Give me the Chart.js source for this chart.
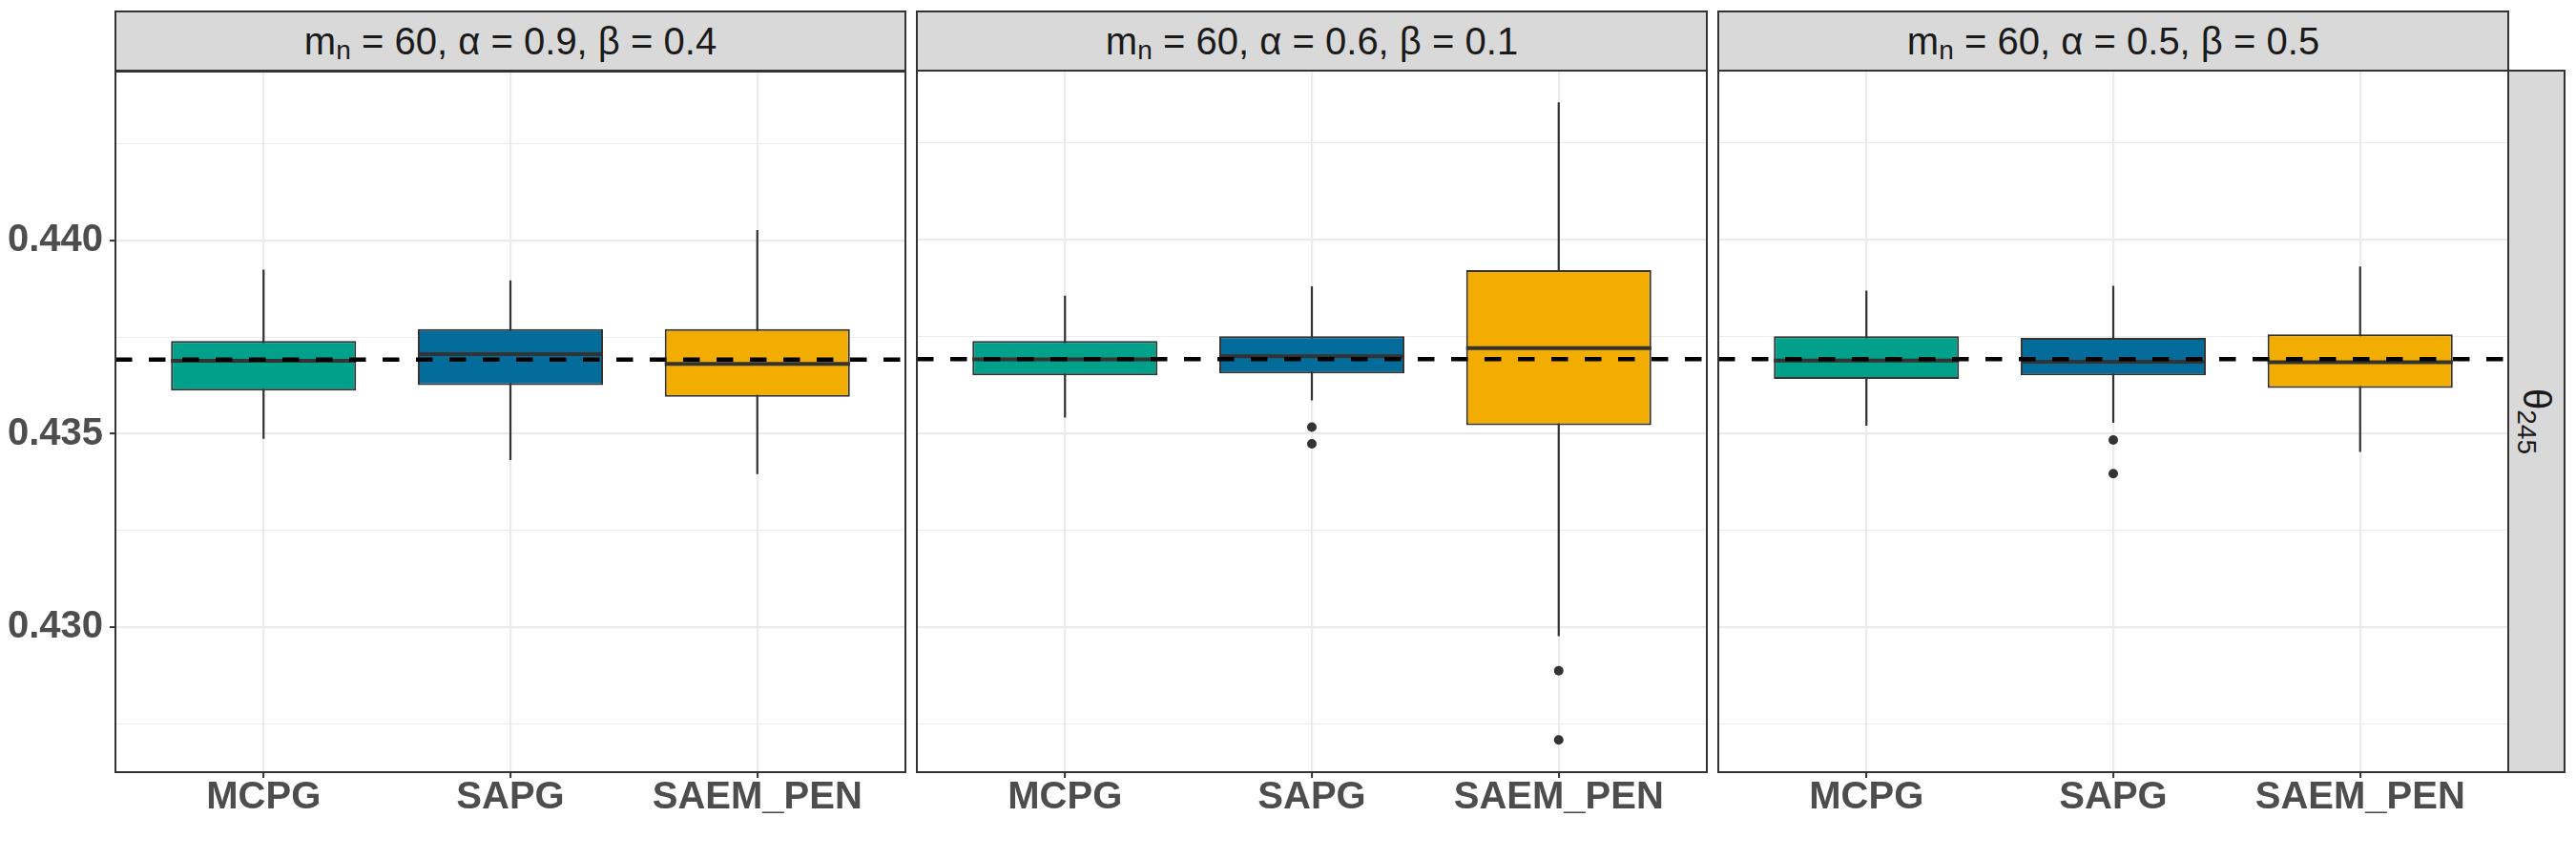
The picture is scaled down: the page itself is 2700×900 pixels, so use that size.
<!DOCTYPE html>
<html>
<head>
<meta charset="utf-8">
<script src="https://cdn.jsdelivr.net/npm/chart.js@4.4.1/dist/chart.umd.min.js"></script>
<style>
  html, body { margin:0; padding:0; background:#ffffff; }
  body { width:2700px; height:900px; position:relative; overflow:hidden; font-family:"Liberation Sans", Arial, sans-serif; }
  canvas { position:absolute; }
  .strip { position:absolute; box-sizing:border-box; background:#D9D9D9; border:2px solid #333333;
           display:flex; align-items:center; justify-content:center; color:#1A1A1A; font-size:40px; white-space:pre; }
  .sb { font-size:0.7em; position:relative; top:0.2em; }
  .eq { margin:0 0.28em; }
  .rstrip span.rot { display:inline-block; transform:rotate(90deg); white-space:pre; }
</style>
</head>
<body>
<script>
// ---------------- data ----------------
const CATEGORIES = ['MCPG', 'SAPG', 'SAEM_PEN'];
const M_N = 60;
const PANEL_ALPHA = ['0.9', '0.6', '0.5'];
const PANEL_BETA  = ['0.4', '0.1', '0.5'];
const ROW_LABEL = '245';
const TRUE_VALUE = 0.43692;
const Y_MAJOR = [0.430, 0.435, 0.440];
const Y_MINOR = [0.4275, 0.4325, 0.4375, 0.4425];
const Y_MIN = 0.42625, Y_MAX = 0.44437;
const FILLS = ['#00A08A', '#046C9A', '#F2AD00'];

// panel 1 : alpha 0.9, beta 0.4
const P1_LOW  = [0.43487, 0.43432, 0.43396];
const P1_Q1   = [0.43612, 0.43626, 0.43596];
const P1_MED  = [0.43689, 0.43706, 0.43681];
const P1_Q3   = [0.43740, 0.43771, 0.43771];
const P1_HIGH = [0.43925, 0.43897, 0.44027];
const P1_OUT  = [[], [], []];
// panel 2 : alpha 0.6, beta 0.1
const P2_LOW  = [0.43541, 0.43585, 0.42976];
const P2_Q1   = [0.43650, 0.43655, 0.43521];
const P2_MED  = [0.43691, 0.43699, 0.43720];
const P2_Q3   = [0.43739, 0.43751, 0.43922];
const P2_HIGH = [0.43856, 0.43880, 0.44355];
const P2_OUT  = [[], [0.43516, 0.43473], [0.42887, 0.42708]];
// panel 3 : alpha 0.5, beta 0.5
const P3_LOW  = [0.43520, 0.43527, 0.43452];
const P3_Q1   = [0.43641, 0.43650, 0.43617];
const P3_MED  = [0.43688, 0.43685, 0.43684];
const P3_Q3   = [0.43751, 0.43747, 0.43756];
const P3_HIGH = [0.43869, 0.43881, 0.43931];
const P3_OUT  = [[], [0.43483, 0.43396], []];

const PANELS = [
  {low:P1_LOW, q1:P1_Q1, med:P1_MED, q3:P1_Q3, high:P1_HIGH, out:P1_OUT},
  {low:P2_LOW, q1:P2_Q1, med:P2_MED, q3:P2_Q3, high:P2_HIGH, out:P2_OUT},
  {low:P3_LOW, q1:P3_Q1, med:P3_MED, q3:P3_Q3, high:P3_HIGH, out:P3_OUT}
];

// ---------------- layout ----------------
const PANEL_LEFT = [121, 961, 1801];
const PANEL_W = 828;
const AREA_TOP = 74, AREA_BOTTOM = 809;
const CANVAS_TOP = 44, PAD_TOP = 30;
const BOX_W = 0.75;

const isMajor = v => Y_MAJOR.some(m => Math.abs(m - v) < 1e-9);

const borderPlugin = {
  id: 'panelBorder',
  afterDraw(chart) {
    const a = chart.chartArea, c = chart.ctx;
    c.save();
    c.strokeStyle = '#333333';
    c.lineWidth = 2;
    c.strokeRect(a.left, a.top, a.right - a.left, a.bottom - a.top);
    c.restore();
  }
};

function makePanel(p) {
  const st = PANELS[p];
  const first = p === 0;
  const yAxisW = first ? PANEL_LEFT[0] : 0;
  const padL = first ? 0 : 5, padR = 5;
  const cv = document.createElement('canvas');
  const cw = yAxisW + padL + PANEL_W + padR;
  const ch = 900 - CANVAS_TOP;
  cv.width = cw; cv.height = ch;
  cv.style.left = (PANEL_LEFT[p] - yAxisW - padL) + 'px';
  cv.style.top = CANVAS_TOP + 'px';
  cv.style.width = cw + 'px'; cv.style.height = ch + 'px';
  document.body.appendChild(cv);

  const whisk = [], meds = [], boxes = [], outs = [];
  CATEGORIES.forEach((c, i) => {
    const x = i + 1;
    whisk.push({x:x, y:st.low[i]}, {x:x, y:st.high[i]}, {x:x + 0.5, y:null});
    meds.push({x:x - BOX_W/2, y:st.med[i]}, {x:x + BOX_W/2, y:st.med[i]}, {x:x + 0.5, y:null});
    boxes.push({x:x, y:[st.q1[i], st.q3[i]]});
    st.out[i].forEach(v => outs.push({x:x, y:v}));
  });

  new Chart(cv, {
    type: 'bar',
    data: {
      datasets: [
        {type:'line', data:[{x:0.4, y:TRUE_VALUE}, {x:3.6, y:TRUE_VALUE}], borderColor:'#000000',
         borderWidth:4.5, borderDash:[17.5, 17.5], pointRadius:0, order:1},
        {type:'scatter', data:outs, backgroundColor:'#333333', borderColor:'#333333', pointRadius:5,
         borderWidth:0, order:2},
        {type:'line', data:meds, borderColor:'#333333', borderWidth:4, pointRadius:0, spanGaps:false, order:3},
        {type:'bar', data:boxes, backgroundColor:FILLS, borderColor:'#333333', borderWidth:2,
         borderSkipped:false, categoryPercentage:BOX_W, barPercentage:1, order:4},
        {type:'line', data:whisk, borderColor:'#333333', borderWidth:2.2, pointRadius:0, spanGaps:false, order:5}
      ]
    },
    options: {
      responsive:false, animation:false, devicePixelRatio:1,
      layout: {padding:{top:PAD_TOP, left:padL, right:padR, bottom:0}},
      plugins: {legend:{display:false}, tooltip:{enabled:false}},
      scales: {
        x: {
          type:'linear', min:0.4, max:3.6, offset:false,
          afterBuildTicks: s => { s.ticks = CATEGORIES.map((c, i) => ({value:i + 1})); },
          afterFit: s => { s.height = 900 - AREA_BOTTOM; },
          border:{display:false},
          grid:{color:'#EBEBEB', lineWidth:2.2, tickColor:'#333333', tickWidth:2, tickLength:6, offset:false},
          ticks:{autoSkip:false, maxRotation:0, minRotation:0, padding:1,
                 callback:(v, i) => CATEGORIES[i],
                 color:'#4D4D4D', font:{family:'Liberation Sans', weight:'bold', size:40, lineHeight:1.0}}
        },
        y: {
          type:'linear', min:Y_MIN, max:Y_MAX,
          afterBuildTicks: s => { s.ticks = Y_MINOR.concat(Y_MAJOR).sort((a, b) => a - b).map(v => ({value:v})); },
          afterFit: s => { s.width = yAxisW; },
          border:{display:false},
          grid:{color:'#EBEBEB', lineWidth:ctx => isMajor(ctx.tick.value) ? 2.2 : 1.1,
                drawTicks:first, tickLength:6, tickWidth:2,
                tickColor:ctx => isMajor(ctx.tick.value) ? '#333333' : 'rgba(0,0,0,0)'},
          ticks:{display:first, padding:7, autoSkip:false,
                 callback:v => isMajor(v) ? v.toFixed(3) : '',
                 color:'#4D4D4D', font:{family:'Liberation Sans', weight:'bold', size:40}}
        }
      }
    },
    plugins:[borderPlugin]
  });

  const strip = document.createElement('div');
  strip.className = 'strip';
  strip.style.left = (PANEL_LEFT[p] - 1) + 'px';
  strip.style.top = '11px';
  strip.style.width = (PANEL_W + 2) + 'px';
  strip.style.height = '64px';
  strip.innerHTML = '<span>m<span class="sb">n</span><span class="eq">=</span>' + M_N +
    ', \u03B1<span class="eq">=</span>' + PANEL_ALPHA[p] +
    ', \u03B2<span class="eq">=</span>' + PANEL_BETA[p] + '</span>';
  document.body.appendChild(strip);
}

[0, 1, 2].forEach(makePanel);

const rs = document.createElement('div');
rs.className = 'strip rstrip';
rs.style.left = (PANEL_LEFT[2] + PANEL_W - 1) + 'px';
rs.style.top = (AREA_TOP - 1) + 'px';
rs.style.width = '61px';
rs.style.height = (AREA_BOTTOM - AREA_TOP + 2) + 'px';
rs.innerHTML = '<span class="rot">\u03B8<span class="sb">' + ROW_LABEL + '</span></span>';
document.body.appendChild(rs);
</script>
</body>
</html>
